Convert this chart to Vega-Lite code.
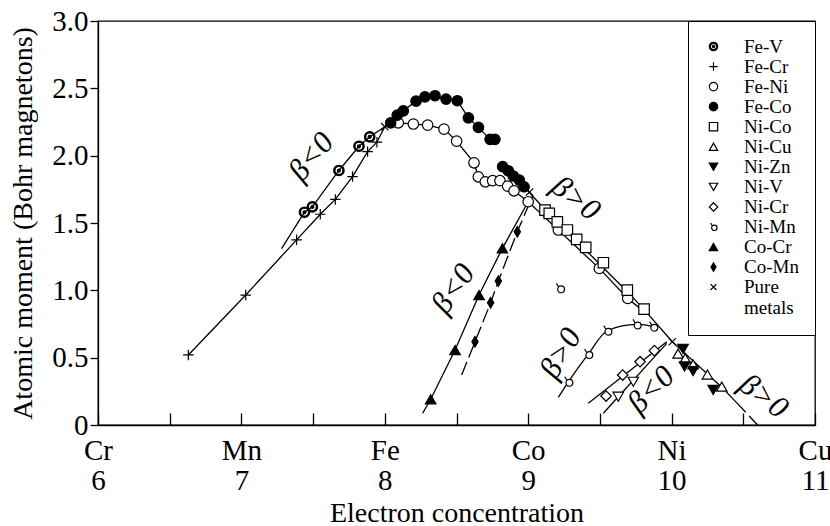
{
  "$schema": "https://vega.github.io/schema/vega-lite/v6.json",
  "autosize": "none",
  "width": 717,
  "height": 404,
  "padding": {"left": 98, "top": 21, "right": 15, "bottom": 101},
  "background": "white",
  "config": {
    "view": {"stroke": "black", "strokeWidth": 1.3},
    "font": "Liberation Serif",
    "axis": {
      "domainColor": "black", "tickColor": "black", "domainWidth": 1.3, "tickWidth": 1.3,
      "labelColor": "black", "titleColor": "black", "labelFont": "Liberation Serif",
      "titleFont": "Liberation Serif", "titleFontWeight": "normal", "grid": false,
      "labelFontSize": 29, "titleFontSize": 28
    },
    "legend": {
      "labelFont": "Liberation Serif", "labelFontSize": 19, "labelColor": "black"
    }
  },
  "datasets": {
    "pts": [
      {"s": "Fe-V", "x": 7.44, "y": 1.58}, {"s": "Fe-V", "x": 7.495, "y": 1.62}, {"s": "Fe-V", "x": 7.68, "y": 1.89}, {"s": "Fe-V", "x": 7.82, "y": 2.07}, {"s": "Fe-V", "x": 7.895, "y": 2.14},
      {"s": "Fe-Cr", "x": 6.63, "y": 0.52}, {"s": "Fe-Cr", "x": 7.03, "y": 0.965}, {"s": "Fe-Cr", "x": 7.385, "y": 1.375}, {"s": "Fe-Cr", "x": 7.55, "y": 1.565}, {"s": "Fe-Cr", "x": 7.655, "y": 1.675}, {"s": "Fe-Cr", "x": 7.775, "y": 1.845}, {"s": "Fe-Cr", "x": 7.88, "y": 2.03}, {"s": "Fe-Cr", "x": 7.945, "y": 2.1},
      {"s": "Fe-Ni", "x": 8.094, "y": 2.244}, {"s": "Fe-Ni", "x": 8.199, "y": 2.235}, {"s": "Fe-Ni", "x": 8.299, "y": 2.227}, {"s": "Fe-Ni", "x": 8.413, "y": 2.197}, {"s": "Fe-Ni", "x": 8.501, "y": 2.108}, {"s": "Fe-Ni", "x": 8.622, "y": 1.947}, {"s": "Fe-Ni", "x": 8.652, "y": 1.843}, {"s": "Fe-Ni", "x": 8.701, "y": 1.806}, {"s": "Fe-Ni", "x": 8.752, "y": 1.814}, {"s": "Fe-Ni", "x": 8.803, "y": 1.814}, {"s": "Fe-Ni", "x": 8.857, "y": 1.774}, {"s": "Fe-Ni", "x": 8.901, "y": 1.739}, {"s": "Fe-Ni", "x": 9.0, "y": 1.658}, {"s": "Fe-Ni", "x": 9.21, "y": 1.448}, {"s": "Fe-Ni", "x": 9.496, "y": 1.163}, {"s": "Fe-Ni", "x": 9.694, "y": 0.94},
      {"s": "Fe-Co", "x": 8.041, "y": 2.244}, {"s": "Fe-Co", "x": 8.087, "y": 2.301}, {"s": "Fe-Co", "x": 8.129, "y": 2.333}, {"s": "Fe-Co", "x": 8.218, "y": 2.405}, {"s": "Fe-Co", "x": 8.28, "y": 2.437}, {"s": "Fe-Co", "x": 8.35, "y": 2.445}, {"s": "Fe-Co", "x": 8.427, "y": 2.42}, {"s": "Fe-Co", "x": 8.506, "y": 2.408}, {"s": "Fe-Co", "x": 8.583, "y": 2.281}, {"s": "Fe-Co", "x": 8.653, "y": 2.21}, {"s": "Fe-Co", "x": 8.734, "y": 2.121}, {"s": "Fe-Co", "x": 8.768, "y": 2.121}, {"s": "Fe-Co", "x": 8.822, "y": 1.918}, {"s": "Fe-Co", "x": 8.861, "y": 1.888}, {"s": "Fe-Co", "x": 8.896, "y": 1.849}, {"s": "Fe-Co", "x": 8.938, "y": 1.819}, {"s": "Fe-Co", "x": 8.971, "y": 1.769},
      {"s": "Ni-Co", "x": 9.117, "y": 1.596}, {"s": "Ni-Co", "x": 9.147, "y": 1.571}, {"s": "Ni-Co", "x": 9.203, "y": 1.509}, {"s": "Ni-Co", "x": 9.273, "y": 1.448}, {"s": "Ni-Co", "x": 9.338, "y": 1.378}, {"s": "Ni-Co", "x": 9.401, "y": 1.319}, {"s": "Ni-Co", "x": 9.524, "y": 1.205}, {"s": "Ni-Co", "x": 9.691, "y": 1.002}, {"s": "Ni-Co", "x": 9.808, "y": 0.86},
      {"s": "Ni-Cu", "x": 10.045, "y": 0.53}, {"s": "Ni-Cu", "x": 10.095, "y": 0.495}, {"s": "Ni-Cu", "x": 10.15, "y": 0.45}, {"s": "Ni-Cu", "x": 10.25, "y": 0.375}, {"s": "Ni-Cu", "x": 10.35, "y": 0.285},
      {"s": "Ni-Zn", "x": 10.08, "y": 0.565}, {"s": "Ni-Zn", "x": 10.09, "y": 0.435}, {"s": "Ni-Zn", "x": 10.15, "y": 0.4}, {"s": "Ni-Zn", "x": 10.29, "y": 0.26},
      {"s": "Ni-V", "x": 9.628, "y": 0.21}, {"s": "Ni-V", "x": 9.733, "y": 0.321},
      {"s": "Ni-Cr", "x": 9.543, "y": 0.215}, {"s": "Ni-Cr", "x": 9.659, "y": 0.371}, {"s": "Ni-Cr", "x": 9.78, "y": 0.47}, {"s": "Ni-Cr", "x": 9.88, "y": 0.552},
      {"s": "Ni-Mn", "x": 9.222, "y": 1.015}, {"s": "Ni-Mn", "x": 9.28, "y": 0.321}, {"s": "Ni-Mn", "x": 9.419, "y": 0.527}, {"s": "Ni-Mn", "x": 9.552, "y": 0.7}, {"s": "Ni-Mn", "x": 9.756, "y": 0.747}, {"s": "Ni-Mn", "x": 9.872, "y": 0.73},
      {"s": "Co-Cr", "x": 8.32, "y": 0.191}, {"s": "Co-Cr", "x": 8.49, "y": 0.557}, {"s": "Co-Cr", "x": 8.657, "y": 0.965}, {"s": "Co-Cr", "x": 8.82, "y": 1.312},
      {"s": "Co-Mn", "x": 8.629, "y": 0.618}, {"s": "Co-Mn", "x": 8.738, "y": 0.908}, {"s": "Co-Mn", "x": 8.792, "y": 1.069}, {"s": "Co-Mn", "x": 8.924, "y": 1.435},
      {"s": "Pure metals", "x": 8.0, "y": 2.215}, {"s": "Pure metals", "x": 9.01, "y": 1.73}, {"s": "Pure metals", "x": 10.005, "y": 0.618}
    ],
    "curves": [
      {"c": "FeCr", "x": 6.63, "y": 0.52}, {"c": "FeCr", "x": 7.03, "y": 0.965}, {"c": "FeCr", "x": 7.385, "y": 1.375}, {"c": "FeCr", "x": 7.55, "y": 1.565}, {"c": "FeCr", "x": 7.655, "y": 1.675}, {"c": "FeCr", "x": 7.775, "y": 1.845}, {"c": "FeCr", "x": 7.88, "y": 2.03}, {"c": "FeCr", "x": 7.945, "y": 2.1}, {"c": "FeCr", "x": 8.0, "y": 2.215},
      {"c": "FeV", "x": 7.28, "y": 1.31}, {"c": "FeV", "x": 7.44, "y": 1.58}, {"c": "FeV", "x": 7.495, "y": 1.62}, {"c": "FeV", "x": 7.68, "y": 1.89}, {"c": "FeV", "x": 7.82, "y": 2.07}, {"c": "FeV", "x": 7.895, "y": 2.14}, {"c": "FeV", "x": 8.0, "y": 2.215},
      {"c": "FeCo1", "x": 8.0, "y": 2.215}, {"c": "FeCo1", "x": 8.041, "y": 2.244}, {"c": "FeCo1", "x": 8.087, "y": 2.301}, {"c": "FeCo1", "x": 8.129, "y": 2.333}, {"c": "FeCo1", "x": 8.218, "y": 2.405}, {"c": "FeCo1", "x": 8.28, "y": 2.437}, {"c": "FeCo1", "x": 8.35, "y": 2.445}, {"c": "FeCo1", "x": 8.427, "y": 2.42}, {"c": "FeCo1", "x": 8.506, "y": 2.408}, {"c": "FeCo1", "x": 8.583, "y": 2.281}, {"c": "FeCo1", "x": 8.653, "y": 2.21}, {"c": "FeCo1", "x": 8.734, "y": 2.121},
      {"c": "FeCo2", "x": 8.822, "y": 1.918}, {"c": "FeCo2", "x": 8.861, "y": 1.888}, {"c": "FeCo2", "x": 8.896, "y": 1.849}, {"c": "FeCo2", "x": 8.938, "y": 1.819}, {"c": "FeCo2", "x": 8.971, "y": 1.769},
      {"c": "FeNi", "x": 8.0, "y": 2.215}, {"c": "FeNi", "x": 8.094, "y": 2.244}, {"c": "FeNi", "x": 8.199, "y": 2.235}, {"c": "FeNi", "x": 8.299, "y": 2.227}, {"c": "FeNi", "x": 8.413, "y": 2.197}, {"c": "FeNi", "x": 8.501, "y": 2.108}, {"c": "FeNi", "x": 8.622, "y": 1.947}, {"c": "FeNi", "x": 8.652, "y": 1.843}, {"c": "FeNi", "x": 8.701, "y": 1.806}, {"c": "FeNi", "x": 8.752, "y": 1.814}, {"c": "FeNi", "x": 8.803, "y": 1.814}, {"c": "FeNi", "x": 8.857, "y": 1.774}, {"c": "FeNi", "x": 8.901, "y": 1.739}, {"c": "FeNi", "x": 9.0, "y": 1.658}, {"c": "FeNi", "x": 9.21, "y": 1.448}, {"c": "FeNi", "x": 9.496, "y": 1.163}, {"c": "FeNi", "x": 9.694, "y": 0.94}, {"c": "FeNi", "x": 9.81, "y": 0.84},
      {"c": "main", "x": 8.971, "y": 1.769}, {"c": "main", "x": 9.117, "y": 1.6}, {"c": "main", "x": 9.4, "y": 1.3}, {"c": "main", "x": 9.691, "y": 0.99}, {"c": "main", "x": 9.81, "y": 0.855}, {"c": "main", "x": 10.005, "y": 0.618}, {"c": "main", "x": 10.35, "y": 0.28}, {"c": "main", "x": 10.45, "y": 0.17},
      {"c": "mainEnd", "x": 10.45, "y": 0.17}, {"c": "mainEnd", "x": 10.6, "y": 0.0},
      {"c": "CoCr", "x": 8.264, "y": 0.087}, {"c": "CoCr", "x": 8.32, "y": 0.191}, {"c": "CoCr", "x": 8.49, "y": 0.557}, {"c": "CoCr", "x": 8.657, "y": 0.965}, {"c": "CoCr", "x": 8.82, "y": 1.312}, {"c": "CoCr", "x": 9.0, "y": 1.658},
      {"c": "CoMn", "x": 8.536, "y": 0.371}, {"c": "CoMn", "x": 8.629, "y": 0.618}, {"c": "CoMn", "x": 8.738, "y": 0.908}, {"c": "CoMn", "x": 8.792, "y": 1.069}, {"c": "CoMn", "x": 8.924, "y": 1.435}, {"c": "CoMn", "x": 9.03, "y": 1.7},
      {"c": "NiMn", "x": 9.21, "y": 0.205}, {"c": "NiMn", "x": 9.28, "y": 0.321}, {"c": "NiMn", "x": 9.419, "y": 0.527}, {"c": "NiMn", "x": 9.552, "y": 0.7}, {"c": "NiMn", "x": 9.756, "y": 0.747}, {"c": "NiMn", "x": 9.872, "y": 0.73}, {"c": "NiMn", "x": 9.9, "y": 0.705},
      {"c": "NiCr", "x": 9.419, "y": 0.161}, {"c": "NiCr", "x": 9.966, "y": 0.618},
      {"c": "NiV", "x": 9.524, "y": 0.087}, {"c": "NiV", "x": 9.966, "y": 0.606}
    ]
  },
  "layer": [
    {
      "data": {"name": "curves"},
      "transform": [{"filter": "indexof(['CoMn','mainEnd','NiMn'], datum.c) < 0"}],
      "mark": {"type": "line", "stroke": "black", "strokeWidth": 1.3},
      "encoding": {
        "x": {"field": "x", "type": "quantitative", "scale": {"domain": [6, 11], "nice": false, "zero": false},
          "axis": {"title": "Electron concentration", "values": [6, 6.5, 7, 7.5, 8, 8.5, 9, 9.5, 10, 10.5, 11], "tickSize": -12,
            "labelExpr": "datum.value % 1 === 0 ? [['Cr','Mn','Fe','Co','Ni','Cu'][datum.value - 6], format(datum.value, 'd')] : ''",
            "labelLineHeight": 30, "labelPadding": 23, "labelOverlap": false, "labelFlush": false, "labelBound": false, "titlePadding": 4}},
        "y": {"field": "y", "type": "quantitative", "scale": {"domain": [0, 3], "nice": false, "zero": false},
          "axis": {"title": "Atomic moment (Bohr magnetons)", "values": [0, 0.5, 1, 1.5, 2, 2.5, 3], "tickSize": 8, "labelPadding": 2,
            "labelExpr": "datum.value === 0 ? '0' : format(datum.value, '.1f')", "labelOverlap": false, "labelFlush": false, "titlePadding": 14}},
        "detail": {"field": "c"}
      }
    },
    {
      "data": {"name": "curves"},
      "transform": [{"filter": "indexof(['CoMn','mainEnd'], datum.c) >= 0"}],
      "mark": {"type": "line", "stroke": "black", "strokeWidth": 1.3, "strokeDash": [14, 5]},
      "encoding": {
        "x": {"field": "x", "type": "quantitative"},
        "y": {"field": "y", "type": "quantitative"},
        "detail": {"field": "c"}
      }
    },
    {
      "data": {"name": "curves"},
      "transform": [{"filter": "datum.c === 'NiMn'"}],
      "mark": {"type": "line", "stroke": "black", "strokeWidth": 1.3, "interpolate": "monotone"},
      "encoding": {
        "x": {"field": "x", "type": "quantitative"},
        "y": {"field": "y", "type": "quantitative"}
      }
    },
    {
      "data": {"name": "pts"},
      "mark": {"type": "point", "filled": false, "stroke": "black", "strokeWidth": 1.2, "size": 110, "opacity": 1},
      "encoding": {
        "x": {"field": "x", "type": "quantitative"},
        "y": {"field": "y", "type": "quantitative"},
        "shape": {"field": "s", "type": "nominal",
          "scale": {"domain": ["Fe-V", "Fe-Cr", "Fe-Ni", "Fe-Co", "Ni-Co", "Ni-Cu", "Ni-Zn", "Ni-V", "Ni-Cr", "Ni-Mn", "Co-Cr", "Co-Mn", "Pure metals"],
            "range": [
              "M0,-1A1,1 0 1,1 0,1A1,1 0 1,1 0,-1Z M0,-0.76A0.76,0.76 0 1,0 0,0.76A0.76,0.76 0 1,0 0,-0.76Z M0,-0.28A0.28,0.28 0 1,1 0,0.28A0.28,0.28 0 1,1 0,-0.28Z",
              "M-1,0L1,0M0,-1L0,1",
              "circle", "circle", "square", "triangle-up", "triangle-down", "triangle-down", "diamond",
              "M0.2,-0.45A0.65,0.65 0 1,1 0.2,0.85A0.65,0.65 0 1,1 0.2,-0.45Z M-0.25,-0.25L-0.7,-0.95",
              "triangle-up",
              "M0,-1L0.6,0L0,1L-0.6,0Z",
              "M-0.7,-0.7L0.7,0.7M-0.7,0.7L0.7,-0.7"
            ]},
          "legend": {"title": null, "orient": "top-right", "offset": 0, "strokeColor": "black", "fillColor": "white", "padding": 16,
            "symbolSize": 70, "symbolStrokeWidth": 1.2, "labelOffset": 21, "rowPadding": 0.05,
            "labelExpr": "datum.label === 'Pure metals' ? ['Pure', 'metals'] : datum.label"}},
        "fill": {"field": "s", "type": "nominal",
          "scale": {"domain": ["Fe-V", "Fe-Cr", "Fe-Ni", "Fe-Co", "Ni-Co", "Ni-Cu", "Ni-Zn", "Ni-V", "Ni-Cr", "Ni-Mn", "Co-Cr", "Co-Mn", "Pure metals"],
            "range": ["black", "white", "white", "black", "white", "white", "black", "white", "white", "white", "black", "black", "white"]}}
      }
    },
    {
      "data": {"values": [{"t": "β<0", "x": 7.49, "y": 1.99}]},
      "mark": {"type": "text", "font": "Liberation Serif", "fontStyle": "italic", "fontSize": 31, "angle": 310, "baseline": "middle", "align": "center"},
      "encoding": {"x": {"field": "x", "type": "quantitative"}, "y": {"field": "y", "type": "quantitative"}, "text": {"field": "t"}}
    },
    {
      "data": {"values": [{"t": "β>0", "x": 9.33, "y": 1.68}]},
      "mark": {"type": "text", "font": "Liberation Serif", "fontStyle": "italic", "fontSize": 31, "angle": 38, "baseline": "middle", "align": "center"},
      "encoding": {"x": {"field": "x", "type": "quantitative"}, "y": {"field": "y", "type": "quantitative"}, "text": {"field": "t"}}
    },
    {
      "data": {"values": [{"t": "β<0", "x": 8.48, "y": 1.01}]},
      "mark": {"type": "text", "font": "Liberation Serif", "fontStyle": "italic", "fontSize": 31, "angle": 305, "baseline": "middle", "align": "center"},
      "encoding": {"x": {"field": "x", "type": "quantitative"}, "y": {"field": "y", "type": "quantitative"}, "text": {"field": "t"}}
    },
    {
      "data": {"values": [{"t": "β>0", "x": 9.23, "y": 0.53}]},
      "mark": {"type": "text", "font": "Liberation Serif", "fontStyle": "italic", "fontSize": 31, "angle": 300, "baseline": "middle", "align": "center"},
      "encoding": {"x": {"field": "x", "type": "quantitative"}, "y": {"field": "y", "type": "quantitative"}, "text": {"field": "t"}}
    },
    {
      "data": {"values": [{"t": "β<0", "x": 9.86, "y": 0.26}]},
      "mark": {"type": "text", "font": "Liberation Serif", "fontStyle": "italic", "fontSize": 31, "angle": 315, "baseline": "middle", "align": "center"},
      "encoding": {"x": {"field": "x", "type": "quantitative"}, "y": {"field": "y", "type": "quantitative"}, "text": {"field": "t"}}
    },
    {
      "data": {"values": [{"t": "β>0", "x": 10.64, "y": 0.21}]},
      "mark": {"type": "text", "font": "Liberation Serif", "fontStyle": "italic", "fontSize": 31, "angle": 37, "baseline": "middle", "align": "center"},
      "encoding": {"x": {"field": "x", "type": "quantitative"}, "y": {"field": "y", "type": "quantitative"}, "text": {"field": "t"}}
    }
  ]
}
